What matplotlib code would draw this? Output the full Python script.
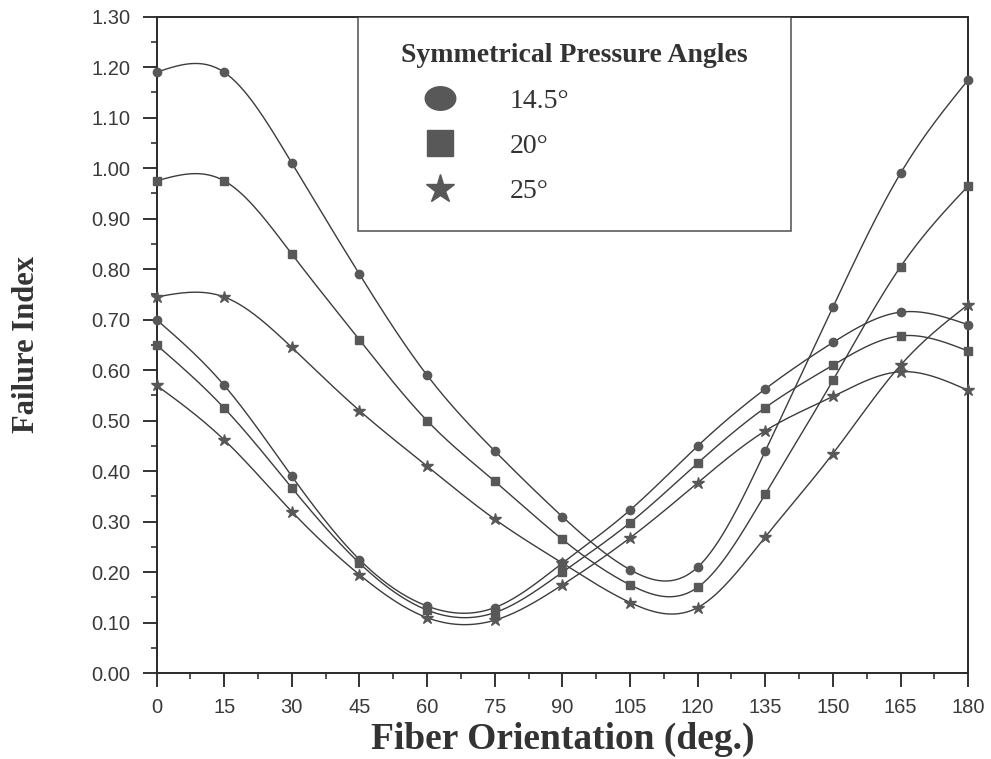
import numpy as np
import matplotlib
matplotlib.use("Agg")
import matplotlib.pyplot as plt
from matplotlib.lines import Line2D

# fiber orientation (deg.)
angles = [0, 15, 30, 45, 60, 75, 90, 105, 120, 135, 150, 165, 180]

# upper family of curves (high at 0 and 180)
upper_145 = [1.19, 1.19, 1.01, 0.79, 0.59, 0.44, 0.31, 0.205, 0.21, 0.44, 0.725, 0.99, 1.175]
upper_20 = [0.975, 0.975, 0.83, 0.66, 0.50, 0.38, 0.265, 0.175, 0.17, 0.355, 0.58, 0.805, 0.965]
upper_25 = [0.745, 0.745, 0.645, 0.52, 0.41, 0.305, 0.218, 0.14, 0.13, 0.27, 0.435, 0.61, 0.73]

# lower family of curves (minimum near 60-75)
lower_145 = [0.70, 0.57, 0.39, 0.225, 0.133, 0.13, 0.218, 0.323, 0.45, 0.563, 0.655, 0.715, 0.69]
lower_20 = [0.65, 0.525, 0.367, 0.218, 0.125, 0.12, 0.20, 0.298, 0.416, 0.526, 0.61, 0.668, 0.638]
lower_25 = [0.57, 0.462, 0.32, 0.195, 0.11, 0.105, 0.175, 0.268, 0.377, 0.48, 0.548, 0.597, 0.56]

legend_labels = ["14.5\u00b0", "20\u00b0", "25\u00b0"]
legend_title = "Symmetrical Pressure Angles"


def natural_spline(x, y, n=400):
    """Smooth curve through the points (natural cubic spline)."""
    x = np.asarray(x, float)
    y = np.asarray(y, float)
    k = len(x)
    h = np.diff(x)
    A = np.zeros((k, k))
    b = np.zeros(k)
    A[0, 0] = A[-1, -1] = 1.0
    for i in range(1, k - 1):
        A[i, i - 1] = h[i - 1]
        A[i, i] = 2 * (h[i - 1] + h[i])
        A[i, i + 1] = h[i]
        b[i] = 6 * ((y[i + 1] - y[i]) / h[i] - (y[i] - y[i - 1]) / h[i - 1])
    M = np.linalg.solve(A, b)
    xs = np.linspace(x[0], x[-1], n)
    idx = np.clip(np.searchsorted(x, xs) - 1, 0, k - 2)
    x0, x1 = x[idx], x[idx + 1]
    hh = x1 - x0
    t0, t1 = x1 - xs, xs - x0
    ys = (M[idx] * t0**3 + M[idx + 1] * t1**3) / (6 * hh) \
        + (y[idx] / hh - M[idx] * hh / 6) * t0 \
        + (y[idx + 1] / hh - M[idx + 1] * hh / 6) * t1
    return xs, ys


line_color = "#3c3c3c"
mark_color = "#585858"
serif = ["Liberation Serif", "DejaVu Serif"]
sans = ["Liberation Sans", "DejaVu Sans"]

fig = plt.figure(figsize=(9.91, 7.59), dpi=100)
ax = fig.add_axes([0.158, 0.113, 0.819, 0.865])

series = [
    (upper_145, "o", 6), (upper_20, "s", 5.5), (upper_25, "*", 9),
    (lower_145, "o", 6), (lower_20, "s", 5.5), (lower_25, "*", 9),
]
for vals, mk, ms in series:
    xs, ys = natural_spline(angles, vals)
    ax.plot(xs, ys, color=line_color, lw=1.0, zorder=2)
    ax.plot(angles, vals, ls="none", marker=mk, ms=ms, color=mark_color,
            mec=mark_color, zorder=3, clip_on=False)

ax.set_xlim(0, 180)
ax.set_ylim(0, 1.30)
ax.set_xticks(np.arange(0, 181, 15))
ax.set_xticks(np.arange(7.5, 180, 15), minor=True)
ax.set_yticks(np.arange(0, 1.301, 0.10))
ax.set_yticks(np.arange(0.05, 1.30, 0.10), minor=True)
ax.set_yticklabels([f"{v:.2f}" for v in np.arange(0, 1.301, 0.10)])
ax.tick_params(which="major", direction="out", length=10, width=1.4,
               color="#333333", labelsize=14.5, labelcolor="#3a3a3a")
ax.tick_params(axis="x", which="major", pad=8)
ax.tick_params(axis="y", which="major", pad=9)
ax.tick_params(which="minor", direction="out", length=4.5, width=1.2,
               color="#333333")
ax.tick_params(top=False, right=False, which="both")
for lab in ax.get_xticklabels() + ax.get_yticklabels():
    lab.set_family(sans)
for sp in ax.spines.values():
    sp.set_linewidth(1.4)
    sp.set_color("#2a2a2a")

ax.set_xlabel("Fiber Orientation (deg.)", fontsize=27, fontweight="bold",
              family=serif, color="#333333", labelpad=3)
ax.set_ylabel("Failure Index", fontsize=22, fontweight="bold",
              family=serif, color="#333333", labelpad=36)

# legend: markers only, big symbols
t = np.linspace(0, 2 * np.pi, 60)
ellipse = np.column_stack([1.3 * np.cos(t), np.sin(t)])
handles = [
    Line2D([], [], ls="none", marker=ellipse, ms=22, color=mark_color),
    Line2D([], [], ls="none", marker="s", ms=18.5, color=mark_color),
    Line2D([], [], ls="none", marker="*", ms=21, color=mark_color),
]
leg = ax.legend(handles, legend_labels, title=legend_title,
                loc="upper left", bbox_to_anchor=(0.248, 0.682, 0.534, 0.318),
                mode="expand", frameon=True, fancybox=False, borderaxespad=0,
                prop={"family": serif, "size": 20},
                title_fontproperties={"family": serif, "weight": "bold", "size": 20},
                handlelength=4.0, handletextpad=0.5, labelspacing=0.72,
                borderpad=0.95, alignment="center")
leg.get_frame().set_edgecolor("#333333")
leg.get_frame().set_linewidth(1.2)
for txt in leg.get_texts():
    txt.set_color("#333333")
leg.get_title().set_color("#333333")

fig.savefig("out.png", dpi=100)
